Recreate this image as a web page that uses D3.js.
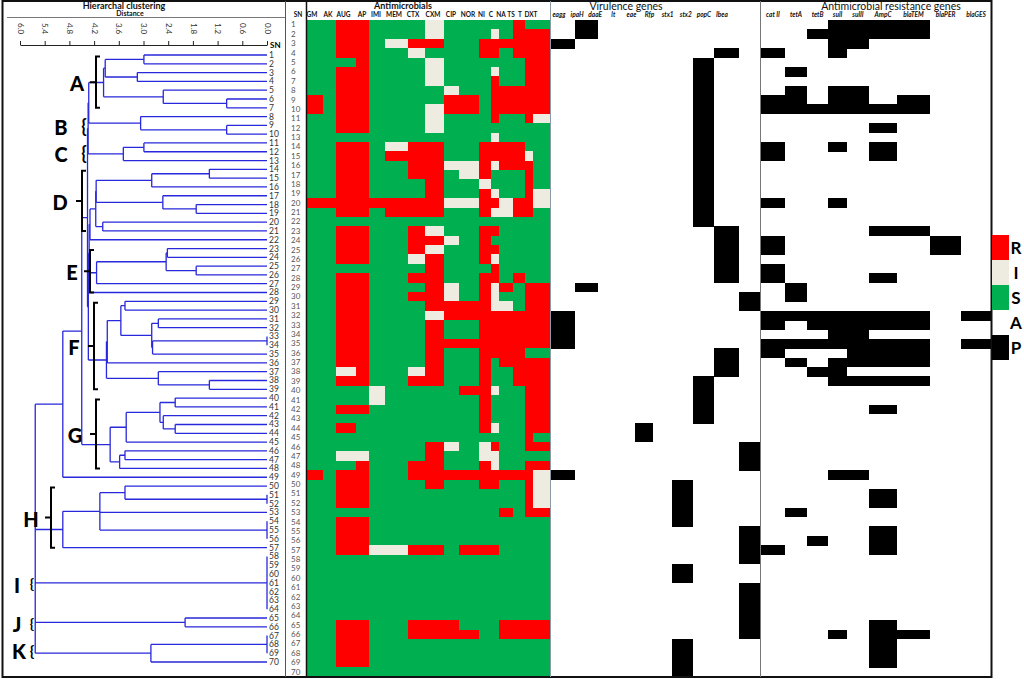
<!DOCTYPE html>
<html>
<head>
<meta charset="utf-8">
<script src="https://cdn.jsdelivr.net/npm/d3@7"></script>
<style>
  body { margin: 0; background: #fff; }
  svg { display: block; font-family: Lato, "Open Sans", sans-serif; }
</style>
</head>
<body>
<script>
// ---------- data ----------
const drugs = ["GM","AK","AUG","AP","IMI","MEM","CTX","CXM","CIP","NOR","NI","C","NA","TS","T","DXT"];
const virGenes = ["eagg","ipaH","daaE","lt","eae","Rfp","stx1","stx2","popC","Ibea"];
const resGenes = ["cat II","tetA","tetB","sulI","sulII","AmpC","blaTEM","blaPER","blaGES"];
const distTicks = [6.0, 5.4, 4.8, 4.2, 3.6, 3.0, 2.4, 1.8, 1.2, 0.6, 0.0];
const legendKeys = ["R","I","S","A","P"];

// R / I / S per isolate (rows 1..70), columns in order of `drugs`
const susceptibility = [
  "SSRRSSSISSSSSRSS","SSRRSSSISSSISRRR","SSRRSIRRSSRRRRRR","SSRRSSISSSRRSRRR","SSSRSSSISSSSSSRR",
  "SSRRSSSISSSISSRR","SSRRSSSISSSRSSRR","SSRRSSSSISSRRRRR","RSRRSSSSRRSRRRRR","RSRRSSSIRRSRRRRR",
  "SSRRSSSISSSRSSRI","SSRRSSSISSSSSSSS","SSSSSSSSSSSISSSS","SSRRSIRRSSRRRRSS","SSRRSRRRSSRRRRIS",
  "SSRRSSRRIIRIRRRS","SSRRSSRRSIRSSSRS","SSRRSSSRSSISSSRS","SSRRSSSRSSRISSRI","RRRRRRRRIIRRIRRI",
  "SSRRSRRRSSRIIRRS","SSSSSSSSSSSSSSSS","SSRRSSRISSRRSSSS","SSRRSSRRISRSSSSS","SSRRSSRISSRRSSSS",
  "SSRRSSIRSSRISSSS","SSSSSSSRSSSRSSSS","SSRRSSRRSSRRSRSS","SSRRSSSRISRIRSRR","SSRRSSRRISRISSRR",
  "SSRRSSSRRRRIISRR","SSRRSSSIRRRRRRRR","SSRRSSSRSSRRRRRR","SSRRSSSRSSRRRRRR","SSRRSSSRRRRRRRRR",
  "SSRRSSSRSSRRRRSS","SSRRSSSRSSRSRRRR","SSIRSSIRSSRSSRRR","SSRRSSRRSSRSSRRR","SSSSISSSSRRISSRR",
  "SSSSISSSSSRSSSRR","SSRRSSSSSSRSSSRR","SSSSSSSSSSRSSSRR","SSRSSSSSSSRISSRR","SSSSSSSSSSSSSSRS",
  "SSSSSSSRISIRSSRR","SSIISSSRSSIISSSS","SSSRSSRRSSRISSRR","RSRRSSRRRRRRRRRI","SSRRSSSRSSRRSSRI",
  "SSRRSSSSSSSSSSRI","SSRRSSSSSSSSSSRI","SSSSSSSSSSSSRSRR","SSRRSSSSSSSSSSSS","SSRRSSSSSSSSSSSS",
  "SSRRSSSSSSSSSSSS","SSRRIIRRSRRRSSSS","SSSSSSSSSSSSSSSS","SSSSSSSSSSSSSSSS","SSSSSSSSSSSSSSSS",
  "SSSSSSSSSSSSSSSS","SSSSSSSSSSSSSSSS","SSSSSSSSSSSSSSSS","SSSSSSSSSSSSSSSS","SSRRSSRRRSSSRRRR",
  "SSRRSSRRRRSSRRRR","SSRRSSSSSSSSSSSS","SSRRSSSSSSSSSSSS","SSRRSSSSSSSSSSSS","SSSSSSSSSSSSSSSS"
];

// presence (1) / absence (0), columns in order of `virGenes`
const virulence = [
  "0100000000","0100000000","1000000000","0000000010","0000000100",
  "0000000100","0000000100","0000000100","0000000100","0000000100",
  "0000000100","0000000100","0000000100","0000000100","0000000100",
  "0000000100","0000000100","0000000100","0000000100","0000000100",
  "0000000100","0000000100","0000000010","0000000010","0000000010",
  "0000000010","0000000010","0000000010","0100000000","0000000001",
  "0000000001","1000000000","1000000000","1000000000","1000000000",
  "0000000010","0000000010","0000000010","0000000100","0000000100",
  "0000000100","0000000100","0000000100","0000100000","0000100000",
  "0000000001","0000000001","0000000001","1000000000","0000001000",
  "0000001000","0000001000","0000001000","0000001000","0000000001",
  "0000000001","0000000001","0000000001","0000001000","0000001000",
  "0000000001","0000000001","0000000001","0000000001","0000000001",
  "0000000001","0000001000","0000001000","0000001000","0000001000"
];

// presence (1) / absence (0), columns in order of `resGenes`
const resistance = [
  "000111100","001111100","000110000","100100000","000000000",
  "010000000","000000000","010110000","110110100","111111100",
  "000000000","000001000","000000000","100101000","100001000",
  "000000000","000000000","000000000","000000000","100100000",
  "000000000","000000000","000001100","100000010","100000010",
  "000000000","100000000","100001000","010000000","010000000",
  "000000000","111111101","101111100","000110000","111111101",
  "100011100","010111100","001100000","000111100","000000000",
  "000000000","000001000","000000000","000000000","000000000",
  "000000000","000000000","000000000","000110000","000000000",
  "000001000","000001000","010000000","000000000","000001000",
  "001001000","100001000","000000000","000000000","000000000",
  "000000000","000000000","000000000","000000000","000001000",
  "000101100","000001000","000001000","000001000","000000000"
];

// dendrogram: [distance, ...children], a bare number is a leaf (isolate SN)
const clusterA = [3.97, [3.93, [2.99, 1, 2], [3.15, 3, 4]], [2.52, 5, [0.98, 6, 7]]];
const clusterB = [3.07, 8, [0.98, 9, 10]];
const clusterC = [3.49, [2.99, 11, 12], 13];
const clusterD = [4.16, [4.15, [2.80, [1.40, 14, 15], 16], [2.53, 17, [1.72, 18, 19]]], [3.99, 20, 21]];
const clusterE = [4.14, [2.45, [2.42, 23, 24], [1.72, 25, 26]], 27];
const clusterF = [3.90, [3.88, [3.55, [3.45, 29, 30], [2.80, [2.64, 31, 32], [2.78, [0, 33, 34], 35]]], 36], [2.64, 37, [1.40, 38, 39]]];
const clusterG = [3.81, [3.42, [2.60, [2.23, 40, 41], [2.52, 42, [2.23, 43, 44]]], 45], [3.58, [3.45, 46, 47], 48]];
const clusterH = [4.96, [4.06, [3.45, 50, [0, 51, 52]], 53, [0, 54, 55, 56]], 57];
const clusterI = [0, 58, 59, 60, 61, 62, 63, 64];
const clusterJ = [1.99, 65, 66];
const clusterK = [2.82, [0, 67, 68, 69], 70];
const tree = [5.63,
  [4.96, [4.50, [4.36, [4.345, [4.33, clusterA, clusterB], clusterC],
                       [4.34, [4.32, [4.30, clusterD, 22], [4.30, clusterE, 28]], clusterF]],
                clusterG], 49],
  clusterH, clusterI, clusterJ, clusterK];

const clusterNames = ["A","B","C","D","E","F","G","H","I","J","K"];
const clusterFirst = [1, 8, 11, 14, 23, 29, 40, 50, 58, 65, 67];
const clusterLast  = [7, 10, 13, 21, 28, 39, 48, 57, 64, 66, 70];

// ---------- scales ----------
const svg = d3.select("body").append("svg").attr("width", 1024).attr("height", 679);

const rowY = d3.scaleBand().domain(d3.range(1, 71)).range([20, 676.5]);
const drugX = d3.scaleLinear().domain(d3.range(17))
  .range([307,323,336,356,369,385,408,425,444,459,479,491,499,513,525,533,550]);
const drugLabelX = d3.scaleOrdinal().domain(drugs)
  .range([312,328,343.5,362,376,394,413,433,451,468,481.5,491,501,511,520,531]);
const virX = d3.scaleLinear().domain(d3.range(11))
  .range([550,575,598,616,635,653,672,693,714,739,761]);
const virLabelX = d3.scalePoint().domain(virGenes).range([559, 722]);
const resX = d3.scaleLinear().domain(d3.range(10))
  .range([761,785,807,828,847,869,897,930,961,991]);
const distX = d3.scaleLinear().domain([6, 0]).range([20, 267]);
const leafY = d3.scaleLinear().domain([1, 70]).range([55, 662]);
const susColor = d3.scaleOrdinal().domain(["R","I","S"]).range(["#ff0000","#eeece1","#00b050"]);
const legendY = d3.scaleBand().domain(legendKeys).range([235, 360]);
const legendFill = d3.scaleOrdinal().domain(legendKeys).range(["#ff0000","#eeece1","#00b050","none","#000"]);

// ---------- heat maps ----------
const toCells = (rows) => rows.flatMap((s, i) => s.split("").map((v, j) => ({row: i + 1, col: j, v})));

svg.append("g").attr("shape-rendering", "crispEdges")
  .selectAll("rect").data(toCells(susceptibility)).join("rect")
  .attr("x", d => drugX(d.col))
  .attr("width", d => drugX(d.col + 1) - drugX(d.col))
  .attr("y", d => rowY(d.row))
  .attr("height", rowY.bandwidth() + 0.4)
  .attr("fill", d => susColor(d.v));

svg.append("g").attr("shape-rendering", "crispEdges")
  .selectAll("rect").data(toCells(virulence).filter(d => d.v === "1")).join("rect")
  .attr("x", d => virX(d.col))
  .attr("width", d => virX(d.col + 1) - virX(d.col))
  .attr("y", d => rowY(d.row))
  .attr("height", rowY.bandwidth() + 0.4)
  .attr("fill", "#000");

svg.append("g").attr("shape-rendering", "crispEdges")
  .selectAll("rect").data(toCells(resistance).filter(d => d.v === "1")).join("rect")
  .attr("x", d => resX(d.col))
  .attr("width", d => resX(d.col + 1) - resX(d.col))
  .attr("y", d => rowY(d.row))
  .attr("height", rowY.bandwidth() + 0.4)
  .attr("fill", "#000");

// SN numbers beside heat map
svg.append("g").selectAll("text").data(d3.range(1, 71)).join("text")
  .attr("x", 291).attr("y", d => rowY(d) + rowY.bandwidth() / 2).attr("dy", "0.35em")
  .attr("font-size", 8).attr("fill", "#555").text(d => d);

// ---------- frame ----------
const frame = svg.append("g").attr("fill", "none");
frame.append("rect").attr("x", 2.5).attr("y", 1).attr("width", 989).attr("height", 676)
  .attr("stroke", "#111").attr("stroke-width", 2);
frame.append("line").attr("x1", 285.5).attr("x2", 285.5).attr("y1", 1).attr("y2", 677).attr("stroke", "#555");
frame.append("line").attr("x1", 306.5).attr("x2", 306.5).attr("y1", 1).attr("y2", 677).attr("stroke", "#111").attr("stroke-width", 1.5);
frame.append("line").attr("x1", 550.5).attr("x2", 550.5).attr("y1", 1).attr("y2", 677).attr("stroke", "#8a9aa6");
frame.append("line").attr("x1", 760.5).attr("x2", 760.5).attr("y1", 1).attr("y2", 677).attr("stroke", "#777");
frame.append("line").attr("x1", 7).attr("x2", 285).attr("y1", 17.5).attr("y2", 17.5).attr("stroke", "#555").attr("stroke-width", 0.8);

// ---------- headers ----------
const hdr = svg.append("g").attr("fill", "#111");
hdr.append("text").attr("x", 124).attr("y", 9).attr("text-anchor", "middle")
  .attr("font-size", 9).attr("font-weight", "bold").text("Hierarchal clustering");
hdr.append("text").attr("x", 130).attr("y", 16).attr("text-anchor", "middle")
  .attr("font-size", 7).attr("font-weight", "bold").text("Distance");
hdr.append("text").attr("x", 403).attr("y", 9).attr("text-anchor", "middle")
  .attr("font-size", 9).attr("font-weight", "bold").text("Antimicrobials");
hdr.append("text").attr("x", 626).attr("y", 10).attr("text-anchor", "middle")
  .attr("font-size", 10.5).text("Virulence genes");
hdr.append("text").attr("x", 891).attr("y", 10).attr("text-anchor", "middle")
  .attr("font-size", 10.5).text("Antimicrobial resistance genes");
hdr.append("text").attr("x", 298).attr("y", 17).attr("text-anchor", "middle")
  .attr("font-size", 6.5).attr("font-weight", "bold").text("SN");

hdr.append("g").selectAll("text").data(drugs).join("text")
  .attr("x", d => drugLabelX(d)).attr("y", 17).attr("text-anchor", "middle")
  .attr("font-size", 6.5).attr("font-weight", "bold").text(d => d);
hdr.append("g").selectAll("text").data(virGenes).join("text")
  .attr("x", d => virLabelX(d)).attr("y", 17).attr("text-anchor", "middle")
  .attr("font-size", 6.5).attr("font-weight", "bold").attr("font-style", "italic").text(d => d);
hdr.append("g").selectAll("text").data(resGenes).join("text")
  .attr("x", (d, i) => (resX(i) + resX(i + 1)) / 2).attr("y", 17).attr("text-anchor", "middle")
  .attr("font-size", 6.5).attr("font-weight", "bold").attr("font-style", "italic").text(d => d);

// ---------- distance axis ----------
const axis = svg.append("g").attr("transform", "translate(0,45)")
  .call(d3.axisTop(distX).tickValues(distTicks).tickFormat(d3.format(".1f")).tickSize(4).tickSizeOuter(0));
axis.select(".domain").attr("stroke", "#222");
axis.selectAll(".tick line").attr("stroke", "#222");
axis.selectAll(".tick text")
  .attr("transform", "rotate(90)").attr("x", -22).attr("y", 0).attr("dy", "0.35em")
  .attr("text-anchor", "start").attr("font-size", 8).attr("font-family", "Lato, sans-serif").attr("fill", "#333");
svg.append("text").attr("x", 270).attr("y", 48).attr("font-size", 8).attr("font-weight", "bold").text("SN");

// ---------- dendrogram ----------
const root = d3.hierarchy(tree, d => Array.isArray(d) ? d.slice(1) : null);
root.eachAfter(n => {
  n.h = Array.isArray(n.data) ? n.data[0] : 0;
  n.yPos = n.children
    ? (n.children[0].yPos + n.children[n.children.length - 1].yPos) / 2
    : leafY(n.data);
});

const linkPath = n => {
  const x0 = distX(n.h);
  const ys = n.children.map(c => c.yPos);
  let p = `M${x0},${d3.min(ys)}V${d3.max(ys)}`;
  n.children.forEach(c => { p += `M${x0},${c.yPos}H${distX(c.h)}`; });
  return p;
};

svg.append("g").attr("fill", "none").attr("stroke", "#2828dc").attr("stroke-width", 1.3)
  .selectAll("path").data(root.descendants().filter(n => n.children)).join("path")
  .attr("d", linkPath);

svg.append("g").selectAll("text").data(root.leaves()).join("text")
  .attr("x", 269).attr("y", d => d.yPos).attr("dy", "0.35em")
  .attr("font-size", 8.5).attr("fill", "#333").text(d => d.data);

// ---------- cluster brackets ----------
const bracketLayout = {
  A: {kind: "sq", bx: 96, lx: 77},
  B: {kind: "brace", bx: 84, lx: 61, fs: 18},
  C: {kind: "brace", bx: 84, lx: 61, fs: 18},
  D: {kind: "sq", bx: 82, lx: 60},
  E: {kind: "sq", bx: 90, lx: 72},
  F: {kind: "sq", bx: 94, lx: 74},
  G: {kind: "sq", bx: 96, lx: 75},
  H: {kind: "sq", bx: 51, lx: 31},
  I: {kind: "brace", bx: 32, lx: 17, fs: 14},
  J: {kind: "brace", bx: 32, lx: 17, fs: 14},
  K: {kind: "brace", bx: 32, lx: 19, fs: 15}
};
const clusters = clusterNames.map((name, i) => ({
  name, y1: leafY(clusterFirst[i]) + 1.5, y2: leafY(clusterLast[i]), ...bracketLayout[name]
}));

const br = svg.append("g");
br.selectAll("path").data(clusters.filter(c => c.kind === "sq")).join("path")
  .attr("fill", "none").attr("stroke", "#000").attr("stroke-width", 2)
  .attr("d", c => `M${c.bx + 4},${c.y1}H${c.bx}V${c.y2}H${c.bx + 4}M${c.bx},${(c.y1 + c.y2) / 2}H${c.bx - 6}`);
br.selectAll("text.brace").data(clusters.filter(c => c.kind === "brace")).join("text")
  .attr("class", "brace").attr("x", c => c.bx).attr("y", c => (c.y1 + c.y2) / 2 + 1).attr("dy", "0.35em")
  .attr("text-anchor", "middle").attr("font-size", c => c.fs).attr("font-weight", "bold").text("{");
br.selectAll("text.lab").data(clusters).join("text")
  .attr("class", "lab").attr("x", c => c.lx).attr("y", c => (c.y1 + c.y2) / 2 + 2).attr("dy", "0.36em")
  .attr("text-anchor", "middle").attr("font-size", 20).attr("font-weight", "900").text(c => c.name);

// ---------- legend ----------
const lg = svg.append("g");
lg.selectAll("rect").data(legendKeys.filter(k => legendFill(k) !== "none")).join("rect")
  .attr("x", 992).attr("width", 17).attr("y", d => legendY(d)).attr("height", legendY.bandwidth())
  .attr("fill", d => legendFill(d));
lg.selectAll("text").data(legendKeys).join("text")
  .attr("x", 1016).attr("y", d => legendY(d) + legendY.bandwidth() / 2).attr("dy", "0.36em")
  .attr("text-anchor", "middle").attr("font-size", 17).attr("font-weight", "bold").text(d => d);
</script>
</body>
</html>
